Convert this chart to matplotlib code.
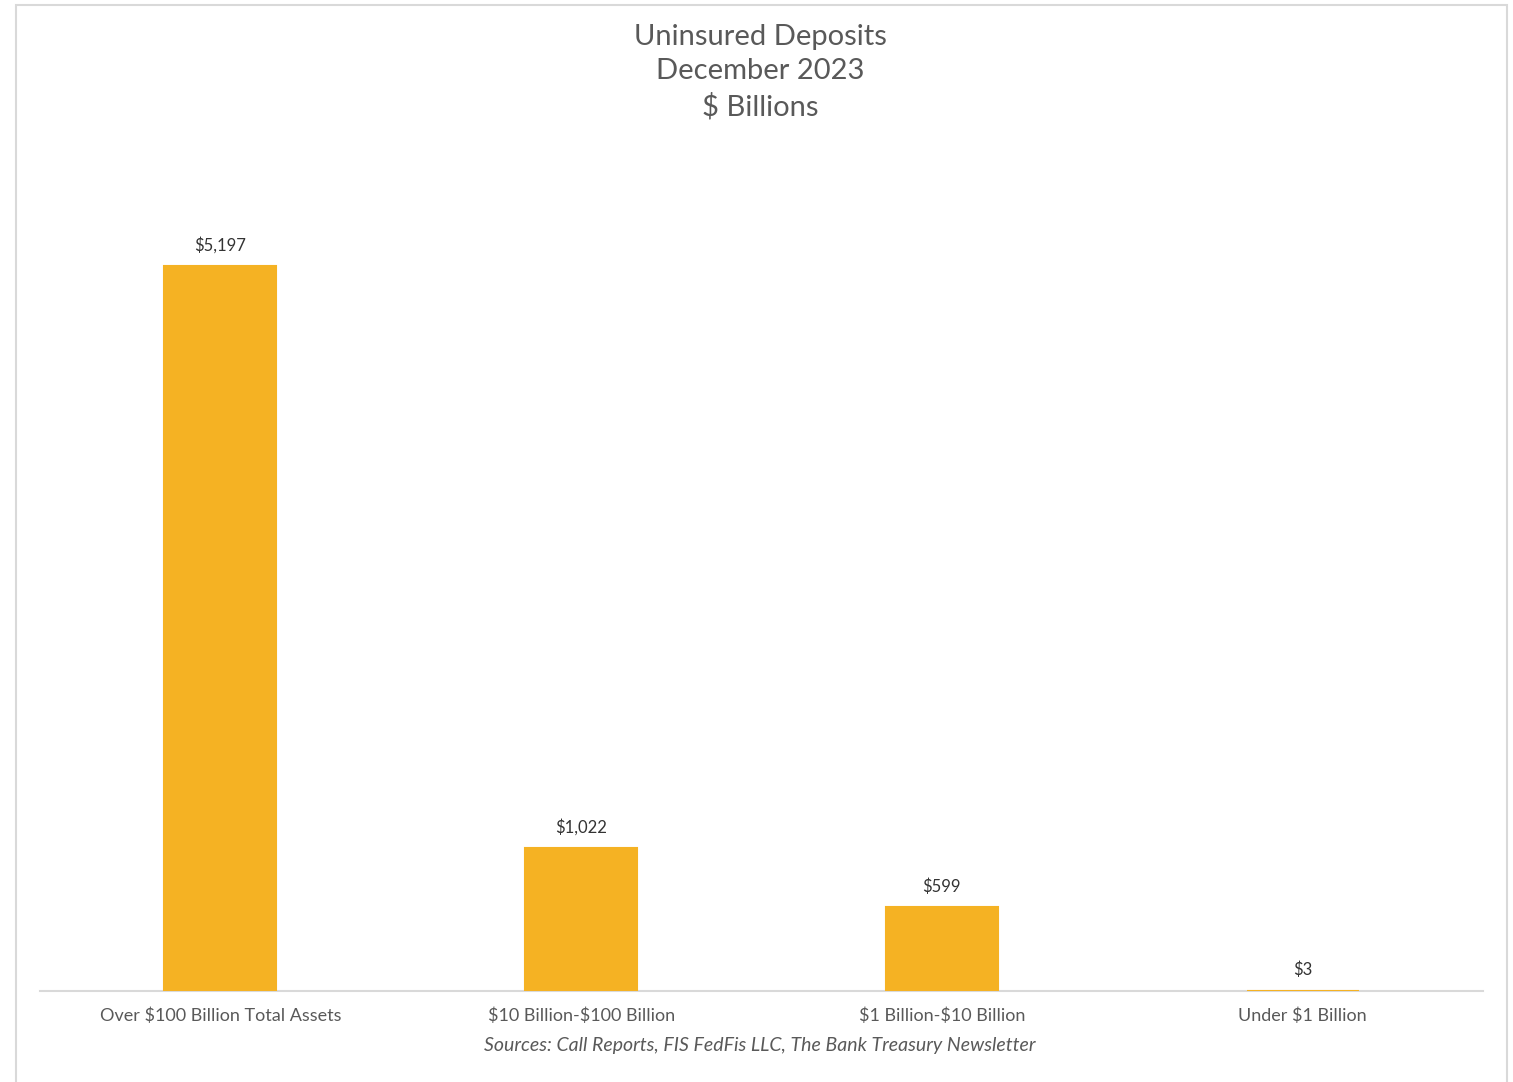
import matplotlib.pyplot as plt
from matplotlib.patches import Rectangle

# Uninsured deposits by bank size, December 2023 ($ billions)
categories = [r'Over \$100 Billion Total Assets', r'\$10 Billion-\$100 Billion',
              r'\$1 Billion-\$10 Billion', r'Under \$1 Billion']
deposits = [5197, 1022, 599, 3]
value_labels = [r'\$5,197', r'\$1,022', r'\$599', r'\$3']

plt.rcParams['font.family'] = ['Lato', 'DejaVu Sans']

fig = plt.figure(figsize=(15.13, 10.82), dpi=100)

# light frame around the chart area
fig.patches.append(Rectangle((16 / 1513, -0.01), (1507 - 16) / 1513, 1 - 5 / 1082 + 0.01,
                             transform=fig.transFigure, fill=False,
                             edgecolor='#d9d9d9', linewidth=1.5))

ax = fig.add_axes([40 / 1513, 1 - 991 / 1082, (1483 - 40) / 1513, (991 - 154) / 1082])

x = range(len(categories))
bars = ax.bar(x, deposits, width=0.31, color='#F5B223',
              edgecolor='#F5B223', linewidth=1.5, zorder=3)

for bar, lab in zip(bars, value_labels):
    ax.annotate(lab, (bar.get_x() + bar.get_width() / 2, bar.get_height()),
                xytext=(0, 9), textcoords='offset points',
                ha='center', va='bottom', fontsize=12, color='#333333')

ax.set_xlim(-0.5, 3.5)
ax.set_ylim(0, 6000)
ax.set_xticks(list(x))
ax.set_xticklabels(categories, fontsize=13, color='#595959')
ax.tick_params(axis='x', length=0, pad=12)
ax.set_yticks([])
for side in ['top', 'left', 'right']:
    ax.spines[side].set_visible(False)
ax.spines['bottom'].set_color('#d9d9d9')
ax.spines['bottom'].set_linewidth(1.5)
ax.spines['bottom'].set_zorder(1)

fig.text(760 / 1513, 1 - 72 / 1082, 'Uninsured Deposits\nDecember 2023\n$ Billions',
         ha='center', va='center', fontsize=21, color='#595959', linespacing=1.4)

fig.text(760 / 1513, 1 - 1045 / 1082,
         'Sources: Call Reports, FIS FedFis LLC, The Bank Treasury Newsletter',
         ha='center', va='center', fontsize=14, style='italic', color='#595959')

fig.savefig('out.png', dpi=100)
